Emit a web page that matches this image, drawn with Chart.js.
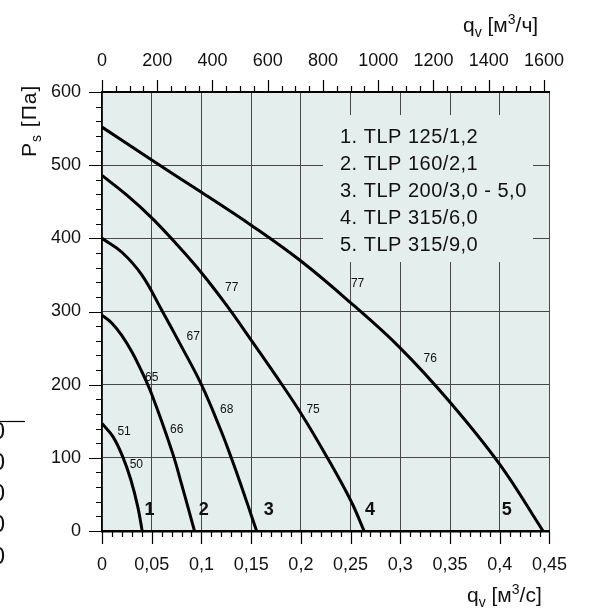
<!DOCTYPE html>
<html>
<head>
<meta charset="utf-8">
<script src="https://cdn.jsdelivr.net/npm/chart.js@4.4.1/dist/chart.umd.min.js"></script>
<style>
    html, body { margin: 0; padding: 0; background: #fff; }
</style>
</head>
<body>
<canvas id="chartFan" width="590" height="610"></canvas>
<script>
// flow rate q_v [m3/s] and static pressure P_s [Pa]
const curve1Q = [0, 0.011, 0.021, 0.029, 0.036, 0.0404];
const curve1P = [147, 129, 101, 70, 33, 0];
const curve2Q = [0, 0.01, 0.02, 0.03, 0.04, 0.046, 0.05, 0.06, 0.0725, 0.08, 0.087, 0.093];
const curve2P = [295, 284, 267, 245, 218, 200, 187, 150, 100, 64, 30, 0];
const curve3Q = [0, 0.02, 0.04, 0.06, 0.08, 0.1, 0.12, 0.13, 0.14, 0.15, 0.1555];
const curve3P = [400, 381, 350, 302, 252, 200, 136, 100, 62, 22, 0];
const curve4Q = [0, 0.025, 0.05, 0.075, 0.1, 0.125, 0.15, 0.175, 0.2, 0.225, 0.25, 0.2636];
const curve4P = [486, 459, 428, 392, 353, 309, 261, 212, 161, 104, 42, 0];
const curve5Q = [0, 0.05, 0.1, 0.15, 0.2, 0.25, 0.3, 0.35, 0.4, 0.4435];
const curve5P = [552, 507, 463, 418, 369, 312, 250, 176, 91, 0];

const legendItems = ['1. TLP 125/1,2', '2. TLP 160/2,1', '3. TLP 200/3,0 - 5,0', '4. TLP 315/6,0', '5. TLP 315/9,0'];
const topTickValues = [0, 200, 400, 600, 800, 1000, 1200, 1400, 1600];

// small numbers along the curves: [text, q, P]
const pointLabels = [
    ['51', 0.0222, 136], ['50', 0.0345, 91],
    ['65', 0.0500, 210], ['66', 0.0752, 139],
    ['67', 0.0917, 265], ['68', 0.1255, 166],
    ['77', 0.1305, 333], ['75', 0.2123, 166],
    ['77', 0.2570, 338], ['76', 0.3301, 235]
];
const curveNumbers = [['1', 0.0477, 29], ['2', 0.1023, 29], ['3', 0.1676, 29], ['4', 0.2695, 29], ['5', 0.4070, 29]];

const Q_MAX = 0.45;
const P_MAX = 600;
const M3H_PER_M3S = 3600;

const PLOT_BG = '#e4eeec';
const GRID = '#474747';
const FONT = '"Liberation Sans", Arial, sans-serif';

function toPoints(qs, ps) {
    return qs.map((q, i) => ({ x: q, y: ps[i] }));
}

function formatComma(v) {
    return String(Math.round(v * 100) / 100).replace('.', ',');
}

// text with sub/superscript pieces, parts: [text, size, dy]
function drawParts(ctx, x, y, parts) {
    let cx = x;
    parts.forEach(([t, size, dy]) => {
        ctx.font = size + 'px ' + FONT;
        ctx.fillText(t, cx, y + dy);
        cx += ctx.measureText(t).width;
    });
}

const decorPlugin = {
    id: 'decor',
    beforeDraw(chart) {
        const { ctx, chartArea: a } = chart;
        ctx.save();
        ctx.fillStyle = PLOT_BG;
        ctx.fillRect(a.left, a.top, a.right - a.left, a.bottom - a.top);
        ctx.restore();
    },
    afterDatasetsDraw(chart) {
        const { ctx } = chart;
        const xs = chart.scales.x, ys = chart.scales.y;
        ctx.save();
        // legend sits on a plain patch, grid hidden behind it
        ctx.fillStyle = PLOT_BG;
        ctx.fillRect(323, 115, 210, 147);
        ctx.fillStyle = '#111';
        ctx.textAlign = 'left';
        ctx.textBaseline = 'middle';
        ctx.font = '20px ' + FONT;
        ctx.letterSpacing = '0.5px';
        legendItems.forEach((t, i) => ctx.fillText(t, 340, 137 + i * 27.2));
        ctx.letterSpacing = '0px';

        ctx.textAlign = 'center';
        ctx.font = '12px ' + FONT;
        pointLabels.forEach(([t, q, p]) => ctx.fillText(t, xs.getPixelForValue(q), ys.getPixelForValue(p)));
        ctx.font = 'bold 18px ' + FONT;
        curveNumbers.forEach(([t, q, p]) => ctx.fillText(t, xs.getPixelForValue(q), ys.getPixelForValue(p)));
        ctx.restore();
    },
    afterDraw(chart) {
        const { ctx, chartArea: a } = chart;
        const xs = chart.scales.x, x2 = chart.scales.x2, ys = chart.scales.y;
        ctx.save();
        ctx.strokeStyle = '#000';
        ctx.lineWidth = 1.2;
        ctx.beginPath();
        // bottom ticks every 0.01, long at 0.05
        for (let i = 0; i <= 45; i++) {
            const px = Math.round(xs.getPixelForValue(i / 100)) + 0.5;
            ctx.moveTo(px, a.bottom);
            ctx.lineTo(px, a.bottom + (i % 5 === 0 ? 13 : 6));
        }
        // top ticks every 50 m3/h, long at 200
        for (let i = 0; i <= 32; i++) {
            const px = Math.round(x2.getPixelForValue(i * 50)) + 0.5;
            ctx.moveTo(px, a.top);
            ctx.lineTo(px, a.top - (i % 4 === 0 ? 12 : 6));
        }
        // left ticks every 20 Pa, long at 100
        for (let i = 0; i <= 30; i++) {
            const py = Math.round(ys.getPixelForValue(i * 20)) + 0.5;
            ctx.moveTo(a.left, py);
            ctx.lineTo(a.left - (i % 5 === 0 ? 13 : 6), py);
        }
        ctx.stroke();

        // axis titles
        ctx.fillStyle = '#111';
        ctx.textAlign = 'left';
        ctx.textBaseline = 'alphabetic';
        drawParts(ctx, 463, 32, [['q', 21, 0], ['v', 14, 5], [' [м', 21, 0], ['3', 14, -8], ['/ч]', 21, 0]]);
        drawParts(ctx, 467, 602, [['q', 21, 0], ['v', 14, 5], [' [м', 21, 0], ['3', 14, -8], ['/с]', 21, 0]]);
        ctx.save();
        ctx.translate(36, 157);
        ctx.rotate(-Math.PI / 2);
        ctx.letterSpacing = '1px';
        drawParts(ctx, 0, 0, [['P', 21, 0], ['s', 14, 5], [' [Па]', 21, 0]]);
        ctx.restore();

        // clipped remains of a neighbouring chart at the left edge
        ctx.beginPath();
        ctx.lineWidth = 1.2;
        ctx.moveTo(0, 421.5);
        ctx.lineTo(25, 421.5);
        ctx.stroke();
        ctx.font = '24px ' + FONT;
        ctx.textAlign = 'right';
        ctx.textBaseline = 'middle';
        [432, 463, 494, 525, 557].forEach(y => ctx.fillText('0', 5, y));
        ctx.restore();
    }
};

const lineStyle = {
    borderColor: '#000',
    borderWidth: 3,
    pointRadius: 0,
    fill: false,
    tension: 0.4,
    xAxisID: 'x',
    yAxisID: 'y'
};

new Chart(document.getElementById('chartFan'), {
    type: 'line',
    data: {
        datasets: [
            { ...lineStyle, label: legendItems[0], data: toPoints(curve1Q, curve1P) },
            { ...lineStyle, label: legendItems[1], data: toPoints(curve2Q, curve2P) },
            { ...lineStyle, label: legendItems[2], data: toPoints(curve3Q, curve3P) },
            { ...lineStyle, label: legendItems[3], data: toPoints(curve4Q, curve4P) },
            { ...lineStyle, label: legendItems[4], data: toPoints(curve5Q, curve5P) }
        ]
    },
    options: {
        responsive: false,
        animation: false,
        layout: { padding: { right: 35 } },
        plugins: { legend: { display: false }, tooltip: { enabled: false } },
        scales: {
            x: {
                type: 'linear',
                position: 'bottom',
                min: 0,
                max: Q_MAX,
                afterFit: (s) => { s.height = 79; },
                ticks: {
                    stepSize: 0.05,
                    padding: 23,
                    color: '#111',
                    font: { size: 18, family: FONT },
                    maxRotation: 0,
                    autoSkip: false,
                    callback: (v) => formatComma(v)
                },
                grid: { color: GRID, lineWidth: 1, drawTicks: false },
                border: { display: true, color: '#000', width: 2.5 }
            },
            x2: {
                type: 'linear',
                position: 'top',
                min: 0,
                max: Q_MAX * M3H_PER_M3S,
                afterFit: (s) => { s.height = 92; },
                afterBuildTicks: (s) => { s.ticks = topTickValues.map(v => ({ value: v })); },
                ticks: {
                    padding: 20,
                    color: '#111',
                    font: { size: 18, family: FONT },
                    maxRotation: 0,
                    autoSkip: false,
                    callback: (v) => String(v)
                },
                grid: { display: false, drawTicks: false },
                border: { display: true, color: '#000', width: 2 }
            },
            y: {
                type: 'linear',
                min: 0,
                max: P_MAX,
                afterFit: (s) => { s.width = 102; },
                ticks: {
                    stepSize: 100,
                    padding: 21,
                    color: '#111',
                    font: { size: 18, family: FONT }
                },
                grid: { color: GRID, lineWidth: 1, drawTicks: false },
                border: { display: true, color: '#000', width: 1.5 }
            }
        }
    },
    plugins: [decorPlugin]
});
</script>
</body>
</html>
